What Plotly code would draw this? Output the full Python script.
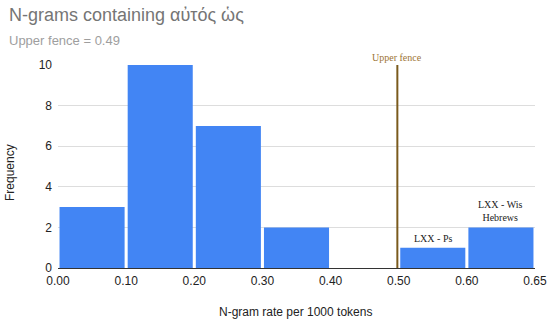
'''
    Histogram of N-gram rates for the phrase αὐτός ὡς, with the upper fence marked.
'''
import plotly.graph_objects as go

bin_labels = ["0.00", "0.10", "0.20", "0.30", "0.40", "0.50", "0.60", "0.65"]
frequencies = [3, 10, 7, 2, 0, 1, 2]
upper_fence = 0.49
bar_notes = ["", "", "", "", "", "LXX - Ps", "LXX - Wis<br>Hebrews"]

W, H = 550, 324
M = dict(l=58, r=15, t=65, b=56)
plot_w = W - M['l'] - M['r']
plot_h = H - M['t'] - M['b']


def px_x(px_from_left):
    '''Pixel column -> paper x.'''
    return (px_from_left - M['l']) / plot_w


def px_y(px_from_top):
    '''Pixel row from the top of the page -> paper y.'''
    return (H - M['b'] - px_from_top) / plot_h


centers = [i + 0.5 for i in range(len(frequencies))]

fig = go.Figure()
fig.add_bar(
    x=centers,
    y=frequencies,
    width=0.955,
    marker=dict(color="#4285F4", line_width=0),
    hoverinfo="y",
)

# upper fence drawn just left of the 0.50 tick
fence_x = 4.98
fig.add_shape(
    type="line", xref="x", yref="y",
    x0=fence_x, x1=fence_x, y0=0, y1=10,
    line=dict(color="#7A5A1C", width=2),
)
fig.add_annotation(
    x=fence_x, y=px_y(58), xref="x", yref="paper", yanchor="middle",
    text="Upper fence", showarrow=False,
    font=dict(family="Liberation Serif", size=10, color="#9C7434"),
)

for c, f, note in zip(centers, frequencies, bar_notes):
    if note:
        fig.add_annotation(
            x=c, y=f, xref="x", yref="y", yanchor="bottom", yshift=2,
            text=note, showarrow=False,
            font=dict(family="Liberation Serif", size=10, color="#222222"),
        )

fig.add_annotation(
    x=px_x(7), y=px_y(15), xref="paper", yref="paper",
    xanchor="left", yanchor="middle",
    text="N-grams containing αὐτός ὡς", showarrow=False,
    font=dict(family="Liberation Sans", size=18, color="#757575"),
)
fig.add_annotation(
    x=px_x(7), y=px_y(41), xref="paper", yref="paper",
    xanchor="left", yanchor="middle",
    text="Upper fence = 0.49", showarrow=False,
    font=dict(family="Liberation Sans", size=13, color="#9E9E9E"),
)
fig.add_annotation(
    x=px_x(295), y=px_y(312), xref="paper", yref="paper",
    xanchor="center", yanchor="middle",
    text="N-gram rate per 1000 tokens", showarrow=False,
    font=dict(family="Liberation Sans", size=12, color="#222222"),
)
fig.add_annotation(
    x=px_x(10), y=px_y(173), xref="paper", yref="paper",
    xanchor="center", yanchor="middle", textangle=-90,
    text="Frequency", showarrow=False,
    font=dict(family="Liberation Sans", size=12, color="#222222"),
)

fig.update_layout(
    width=W, height=H, margin=M,
    paper_bgcolor="white", plot_bgcolor="white",
    showlegend=False,
    font=dict(family="Liberation Sans", size=12, color="#222222"),
    xaxis=dict(
        range=[0, len(frequencies)],
        tickvals=list(range(len(bin_labels))),
        ticktext=bin_labels,
        showgrid=False, zeroline=False,
        showline=True, linecolor="#333333", linewidth=1,
        ticks="", ticklabelstandoff=2,
        automargin=False,
    ),
    yaxis=dict(
        range=[0, 10],
        tickvals=[0, 2, 4, 6, 8, 10],
        gridcolor="#DDDDDD", zeroline=False,
        ticks="", ticklabelstandoff=5,
        automargin=False,
    ),
)

# the page body has an 8px default margin; drop it so the figure sits at 0,0
fig.write_html(
    "out.html",
    config={"displayModeBar": False},
    post_script="document.body.style.margin='0';",
)
